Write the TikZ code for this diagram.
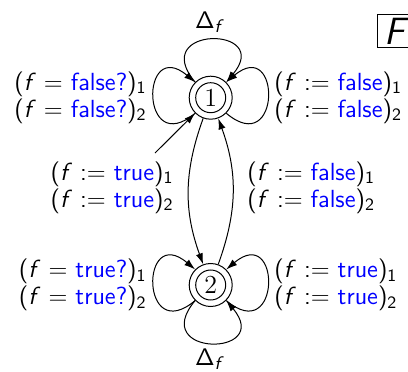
\documentclass[tikz,border=0pt]{standalone}
\usetikzlibrary{arrows.meta}
\begin{document}
\begin{tikzpicture}[x=0.5pt,y=0.5pt,
  arr/.style={-{Latex[length=5.5pt,width=3.6pt]}, line width=0.5pt},
  statenode/.style={circle, draw, line width=0.5pt, minimum size=21.5pt, inner sep=0pt,
    font=\fontsize{13}{13}\selectfont},
  lab/.style={font=\sffamily\fontsize{12.4}{13.6}\selectfont, align=left, inner sep=0pt},
  deltalab/.style={font=\sffamily\fontsize{13}{14}\selectfont, inner sep=0pt}]
\useasboundingbox (0,0) rectangle (408,371);
% states
\node[statenode] (n1) at (210.7,273.3) {1};
\node[statenode] (n2) at (210.7,86) {2};
\draw[line width=0.5pt] (n1.center) circle[radius=7.5pt];
\draw[line width=0.5pt] (n2.center) circle[radius=7.5pt];
% loops at state 1
\draw[arr] (n1.135) .. controls +(130:74) and +(50:74) .. (n1.45);
\draw[arr] (n1.225) .. controls +(220:72) and +(140:72) .. (n1.135);
\draw[arr] (n1.315) .. controls +(320:72) and +(40:72) .. (n1.45);
% loops at state 2
\draw[arr] (n2.225) .. controls +(230:74) and +(310:74) .. (n2.315);
\draw[arr] (n2.225) .. controls +(220:72) and +(140:72) .. (n2.135);
\draw[arr] (n2.315) .. controls +(320:72) and +(40:72) .. (n2.45);
% edges between states
\draw[arr] (n1) to[bend right=20] (n2);
\draw[arr] (n2) to[bend right=20] (n1);
% initial arrow
\coordinate (init) at (155,218);
\draw[arr] (init) -- (n1);
% labels
\node[deltalab] (dtop) at (210,349) {$\mathsf{\Delta}$\textsubscript{\textit{f}}};
\node[deltalab] (dbot) at (210,12) {$\mathsf{\Delta}$\textsubscript{\textit{f}}};
\node[lab, anchor=east] (tl) at (147,273.5) {(\textit{f} = \textcolor{blue}{false?})\textsubscript{1}\\(\textit{f} = \textcolor{blue}{false?})\textsubscript{2}};
\node[lab, anchor=west] (tr) at (274,273.5) {(\textit{f} := \textcolor{blue}{false})\textsubscript{1}\\(\textit{f} := \textcolor{blue}{false})\textsubscript{2}};
\node[lab, anchor=east] (ml) at (174,183.5) {(\textit{f} := \textcolor{blue}{true})\textsubscript{1}\\(\textit{f} := \textcolor{blue}{true})\textsubscript{2}};
\node[lab, anchor=west] (mr) at (247,183.5) {(\textit{f} := \textcolor{blue}{false})\textsubscript{1}\\(\textit{f} := \textcolor{blue}{false})\textsubscript{2}};
\node[lab, anchor=east] (bl) at (147,86) {(\textit{f} = \textcolor{blue}{true?})\textsubscript{1}\\(\textit{f} = \textcolor{blue}{true?})\textsubscript{2}};
\node[lab, anchor=west] (br) at (274,86) {(\textit{f} := \textcolor{blue}{true})\textsubscript{1}\\(\textit{f} := \textcolor{blue}{true})\textsubscript{2}};
% F box
\node[draw, line width=0.5pt, anchor=west, minimum height=16.5pt, minimum width=17pt, inner sep=0pt,
  font=\sffamily\itshape\fontsize{19}{19}\selectfont] (fbox) at (377,340) {F};
\end{tikzpicture}
\end{document}
